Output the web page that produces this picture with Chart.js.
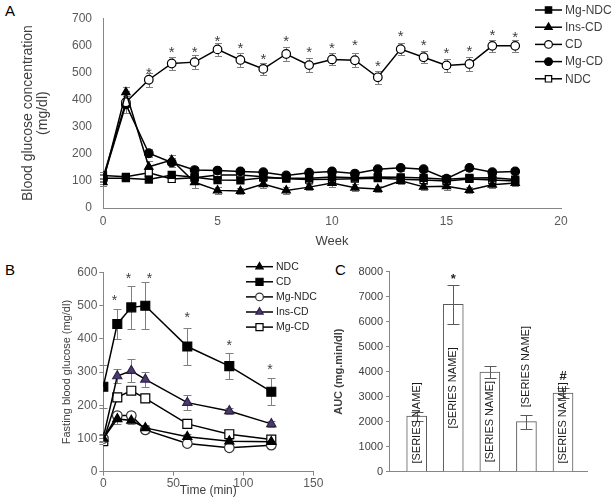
<!DOCTYPE html>
<html><head><meta charset="utf-8">
<script src="https://cdn.jsdelivr.net/npm/chart.js@4.4.1/dist/chart.umd.min.js"></script>
<style>
html,body{margin:0;padding:0;background:#fff;}
body{width:616px;height:502px;position:relative;overflow:hidden;font-family:'Liberation Sans',Arial,sans-serif;}
canvas{position:absolute;}
.pl{position:absolute;font-size:15px;color:#000;line-height:15px;}
</style></head><body>
<div class="pl" style="left:5px;top:3px">A</div>
<div class="pl" style="left:5px;top:262px">B</div>
<div class="pl" style="left:335px;top:262px">C</div>
<canvas id="ca" width="616" height="250" style="left:0;top:0"></canvas>
<canvas id="cb" width="335" height="247" style="left:0;top:255px"></canvas>
<canvas id="cc" width="286" height="247" style="left:330px;top:255px"></canvas>
<script>
// ---------- Panel A data ----------
const weeksA   = [0,1,2,3,4,5,6,7,8,9,10,11,12,13,14,15,16,17,18];
const mgNdcA   = [110,110,105,122,113,103,102,112,110,110,114,112,114,113,111,106,111,112,105];
const insCdA   = [95,427,152,177,95,65,63,88,65,77,92,75,70,100,78,80,66,86,92];
const cdA      = [112,390,473,533,538,585,546,513,568,527,548,545,482,586,556,526,531,598,598];
const mgCdA    = [105,382,202,168,140,138,135,132,120,130,135,127,143,148,143,108,148,132,135];
const ndcA     = [120,115,130,107,112,122,122,115,108,105,106,108,110,106,103,100,107,103,100];
const mgNdcErrA= [12,10,10,12,10,10,10,10,10,10,10,10,10,10,10,10,10,10,10];
const insCdErrA= [15,20,20,20,20,12,12,15,12,12,15,12,10,12,12,12,12,12,12];
const cdErrA   = [15,40,25,25,25,25,25,22,25,25,22,25,25,22,22,25,25,22,22];
const mgCdErrA = [15,30,15,15,12,10,10,10,10,10,10,10,10,10,10,10,10,10,10];
const ndcErrA  = [12,10,10,10,10,10,10,10,10,10,10,10,10,10,10,10,10,10,10];
const starWeeksA = [2,3,4,5,6,7,8,9,10,11,12,13,14,15,16,17,18];
const starValsA  = [514,589,589,632,604,565,630,589,604,616,538,648,616,586,592,652,646];
const yTicksA = [0,100,200,300,400,500,600,700];
const xTicksA = [0,5,10,15,20];

// ---------- Panel B data ----------
const timeB    = [0,10,20,30,60,90,120];
const ndcB     = [100,159,154,132,105,92,90];
const cdB      = [256,445,495,500,377,318,241];
const mgNdcB   = [100,169,169,126,85,72,80];
const insCdB   = [103,288,304,278,208,183,144];
const mgCdB    = [92,224,244,221,144,113,97];
const ndcErrB  = [10,15,10,8,10,8,8];
const cdErrB   = [65,45,65,70,55,40,40];
const mgNdcErrB= [10,12,10,8,8,8,8];
const insCdErrB= [10,20,35,22,22,8,10];
const mgCdErrB = [10,12,10,10,8,8,8];
const starTimesB = [8,18,33,60,90,119];
const starValsB  = [529,595,595,478,393,321];

// ---------- Panel C data ----------
const barNamesC = ['[SERIES NAME]','[SERIES NAME]','[SERIES NAME]','[SERIES NAME]','[SERIES NAME]'];
const aucC      = [2220,6690,3980,2000,3140];
const aucErrC   = [180,770,250,280,200];
const marksC    = [{i:1, v:7870, t:'*'}, {i:4, v:3870, t:'#'}];

Chart.defaults.font.family = "'Liberation Sans', Arial, sans-serif";
Chart.defaults.color = '#595959';
Chart.defaults.animation = false;

const AX = '#868686';

const pts = (xs, ys) => xs.map((x, i) => ({x: x, y: ys[i]}));
const plain = v => String(v);

const errorBars = {
  id: 'errorBars',
  draw(chart, opts) {
    const ctx = chart.ctx, ys = chart.scales.y;
    ctx.save();
    ctx.strokeStyle = opts.color; ctx.lineWidth = opts.width || 1;
    chart.data.datasets.forEach((ds, di) => {
      if (!ds.errors) return;
      const meta = chart.getDatasetMeta(di);
      meta.data.forEach((el, i) => {
        const e = ds.errors[i]; if (!e) return;
        const d = ds.data[i]; const v = (typeof d === 'object') ? d.y : d;
        const x = Math.round(el.x) + 0.5;
        const y1 = Math.round(ys.getPixelForValue(v + e)) + 0.5, y2 = Math.round(ys.getPixelForValue(v - e)) + 0.5;
        ctx.beginPath();
        ctx.moveTo(x, y1); ctx.lineTo(x, y2);
        ctx.moveTo(x - opts.cap, y1); ctx.lineTo(x + opts.cap, y1);
        ctx.moveTo(x - opts.cap, y2); ctx.lineTo(x + opts.cap, y2);
        ctx.stroke();
      });
    });
    ctx.restore();
  },
  beforeDatasetsDraw(chart, args, opts) { if (!opts.after) this.draw(chart, opts); },
  afterDatasetsDraw(chart, args, opts) { if (opts.after) this.draw(chart, opts); }
};

const marks = {
  id: 'marks',
  afterDatasetsDraw(chart, args, opts) {
    const ctx = chart.ctx;
    ctx.save();
    ctx.fillStyle = opts.color; ctx.font = opts.font;
    ctx.textAlign = 'center'; ctx.textBaseline = 'alphabetic';
    opts.items.forEach(m => {
      const x = chart.scales.x.getPixelForValue(m.x), y = chart.scales.y.getPixelForValue(m.y);
      ctx.fillText(m.t, x, y + (m.t === '*' ? opts.dyStar : opts.dyOther));
    });
    ctx.restore();
  }
};

const sideLegend = {
  id: 'sideLegend',
  afterDraw(chart, args, opts) {
    const ctx = chart.ctx;
    ctx.save();
    chart.data.datasets.forEach((ds, i) => {
      const y = opts.y + i * opts.gap;
      ctx.strokeStyle = ds.borderColor; ctx.lineWidth = ds.borderWidth;
      ctx.beginPath(); ctx.moveTo(opts.x, y); ctx.lineTo(opts.x + opts.len, y); ctx.stroke();
      ctx.fillStyle = ds.pointBackgroundColor; ctx.strokeStyle = ds.pointBorderColor; ctx.lineWidth = ds.pointBorderWidth;
      Chart.helpers.drawPoint(ctx, {pointStyle: ds.pointStyle, radius: ds.pointRadius * opts.scale, borderWidth: ds.pointBorderWidth, rotation: 0}, opts.x + opts.len / 2, y);
      ctx.fillStyle = opts.color; ctx.font = opts.font; ctx.textAlign = 'left'; ctx.textBaseline = 'middle';
      ctx.fillText(ds.label, opts.x + opts.len + 3, y + 0.5);
    });
    ctx.restore();
  }
};

const barLabels = {
  id: 'barLabels',
  afterDatasetsDraw(chart, args, opts) {
    const ctx = chart.ctx, meta = chart.getDatasetMeta(0);
    ctx.save();
    ctx.fillStyle = opts.color; ctx.font = opts.font; ctx.textAlign = 'center'; ctx.textBaseline = 'middle';
    chart.data.labels.forEach((t, i) => {
      const x = meta.data[i].x, y = chart.scales.y.getPixelForValue(opts.anchors[i]);
      ctx.save(); ctx.translate(x, y); ctx.rotate(-Math.PI / 2); ctx.fillText(t, 0, 0); ctx.restore();
    });
    ctx.restore();
  }
};

function lineDs(label, xs, ys, errs, style, radius, fill, border) {
  return {
    label: label, data: pts(xs, ys), errors: errs,
    borderColor: '#000', borderWidth: 1.5,
    pointStyle: style, pointRadius: radius, pointHoverRadius: radius,
    pointBackgroundColor: fill, pointBorderColor: border || '#000', pointBorderWidth: 1.2,
    tension: 0, fill: false
  };
}

// ---------- Chart A ----------
new Chart(document.getElementById('ca'), {
  type: 'line',
  data: { datasets: [
    lineDs('Mg-NDC', weeksA, mgNdcA, mgNdcErrA, 'rect', 5, '#000'),
    lineDs('Ins-CD', weeksA, insCdA, insCdErrA, 'triangle', 4.8, '#000'),
    lineDs('CD', weeksA, cdA, cdErrA, 'circle', 4.3, '#fff'),
    lineDs('Mg-CD', weeksA, mgCdA, mgCdErrA, 'circle', 4.3, '#000'),
    lineDs('NDC', weeksA, ndcA, ndcErrA, 'rect', 5, '#fff')
  ]},
  options: {
    responsive: false, devicePixelRatio: 1,
    layout: { padding: { left: 0, top: 13, right: 55, bottom: 0 } },
    plugins: {
      legend: { display: false }, tooltip: { enabled: false },
      errorBars: { color: '#7f7f7f', cap: 3.5, width: 1 },
      marks: { color: '#404040', font: '15px "Liberation Sans", Arial', dyStar: 9, dyOther: 5,
               items: starWeeksA.map((w, i) => ({x: w, y: starValsA[i], t: '*'})) },
      sideLegend: { x: 535, y: 10, gap: 17.2, len: 27, scale: 0.9, color: '#404040', font: '12px "Liberation Sans", Arial' }
    },
    scales: {
      x: { type: 'linear', min: 0, max: 20,
           afterBuildTicks: s => { s.ticks = xTicksA.map(v => ({value: v})); },
           afterFit: s => { s.height = 42; },
           grid: { display: false, drawTicks: false },
           border: { display: true, color: AX, width: 1 },
           ticks: { padding: 6, font: { size: 12 }, color: '#595959', callback: plain },
           title: { display: true, text: 'Week', font: { size: 13 }, color: '#404040', padding: { top: 0, bottom: 1 } } },
      y: { type: 'linear', min: 0, max: 700,
           afterBuildTicks: s => { s.ticks = yTicksA.map(v => ({value: v})); },
           afterFit: s => { s.width = 103; },
           grid: { display: false, drawTicks: false },
           border: { display: true, color: AX, width: 1 },
           ticks: { padding: 11, font: { size: 12 }, color: '#595959', callback: plain },
           title: { display: true, text: ['Blood glucose concentration', '(mg/dl)'], font: { size: 14, lineHeight: 1.1 }, color: '#404040', padding: { top: 20, bottom: 0 } } }
    }
  },
  plugins: [errorBars, marks, sideLegend]
});

// ---------- Chart B ----------
new Chart(document.getElementById('cb'), {
  type: 'line',
  data: { datasets: [
    lineDs('NDC', timeB, ndcB, ndcErrB, 'triangle', 5.3, '#000'),
    lineDs('CD', timeB, cdB, cdErrB, 'rect', 6.3, '#000'),
    lineDs('Mg-NDC', timeB, mgNdcB, mgNdcErrB, 'circle', 4.8, '#fff', '#333'),
    lineDs('Ins-CD', timeB, insCdB, insCdErrB, 'triangle', 5.3, '#4a3a6e', '#2e2248'),
    lineDs('Mg-CD', timeB, mgCdB, mgCdErrB, 'rect', 6.3, '#fff')
  ]},
  options: {
    responsive: false, devicePixelRatio: 1,
    layout: { padding: { left: 0, top: 17.5, right: 21.7, bottom: 0 } },
    plugins: {
      legend: { display: false }, tooltip: { enabled: false },
      errorBars: { color: '#7f7f7f', cap: 4, width: 1 },
      marks: { color: '#404040', font: '14px "Liberation Sans", Arial', dyStar: 8.5, dyOther: 5,
               items: starTimesB.map((t, i) => ({x: t, y: starValsB[i], t: '*'})) },
      sideLegend: { x: 246, y: 11.7, gap: 15.1, len: 27, scale: 0.8, color: '#262626', font: '10.5px "Liberation Sans", Arial' }
    },
    scales: {
      x: { type: 'linear', min: 0, max: 150,
           ticks: { stepSize: 50, padding: 1, font: { size: 12 }, color: '#595959', maxRotation: 0, callback: plain },
           afterFit: s => { s.height = 30.3; },
           grid: { display: true, drawOnChartArea: false, drawTicks: true, tickLength: 4, color: AX },
           border: { display: true, color: AX, width: 1 },
           title: { display: true, text: 'Time (min)', font: { size: 12 }, color: '#404040', padding: { top: 0, bottom: 4 } } },
      y: { type: 'linear', min: 0, max: 600,
           ticks: { stepSize: 100, padding: 2, font: { size: 12 }, color: '#595959', callback: plain },
           afterFit: s => { s.width = 103.3; },
           grid: { display: true, drawOnChartArea: false, drawTicks: true, tickLength: 4, color: AX },
           border: { display: true, color: AX, width: 1 },
           title: { display: true, text: 'Fasting blood glucose (mg/dl)', font: { size: 11 }, color: '#404040', padding: { top: 60, bottom: 0 } } }
    }
  },
  plugins: [errorBars, marks, sideLegend]
});

// ---------- Chart C ----------
new Chart(document.getElementById('cc'), {
  type: 'bar',
  data: { labels: barNamesC, datasets: [{
    label: 'AUC', data: pts([0,1,2,3,4], aucC), errors: aucErrC,
    backgroundColor: '#fff', borderColor: '#595959', borderWidth: 1, barThickness: 20
  }]},
  options: {
    responsive: false, devicePixelRatio: 1,
    layout: { padding: { left: 0, top: 16.7, right: 29, bottom: 0 } },
    plugins: {
      legend: { display: false }, tooltip: { enabled: false },
      errorBars: { color: '#595959', cap: 6, width: 1, after: true },
      marks: { color: '#262626', font: 'bold 13px "Liberation Sans", Arial', dyStar: 8.5, dyOther: 5,
               items: marksC.map(m => ({x: m.i, y: m.v, t: m.t})) },
      barLabels: { color: '#1a1a1a', font: '11px "Liberation Sans", Arial', anchors: [1950, 3350, 2000, 4200, 1950] }
    },
    scales: {
      x: { type: 'linear', min: -0.757, max: 4.656, offset: false,
           ticks: { display: false },
           afterFit: s => { s.height = 30.3; },
           grid: { display: false, drawTicks: false },
           border: { display: true, color: AX, width: 1 } },
      y: { type: 'linear', min: 0, max: 8000,
           ticks: { stepSize: 1000, padding: 3, font: { size: 11 }, color: '#404040', callback: plain },
           afterFit: s => { s.width = 59; },
           grid: { display: true, drawOnChartArea: false, drawTicks: true, tickLength: 3, color: AX },
           border: { display: true, color: AX, width: 1 },
           title: { display: true, text: 'AUC (mg.min/dl)', font: { size: 11, weight: 'bold' }, color: '#404040', padding: { top: 2.5, bottom: 0 } } }
    }
  },
  plugins: [errorBars, marks, barLabels]
});
</script>
</body></html>
